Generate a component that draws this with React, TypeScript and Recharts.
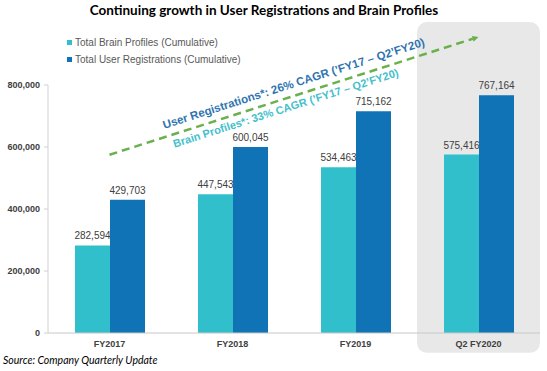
import { BarChart, Bar, XAxis, YAxis, LabelList, ReferenceArea, ReferenceLine } from 'recharts';

const periods = ['FY2017', 'FY2018', 'FY2019', 'Q2 FY2020'];
const brainProfiles = [282594, 447543, 534463, 575416];
const userRegistrations = [429703, 600045, 715162, 767164];
const yTicks = [0, 200000, 400000, 600000, 800000];

const brainName = 'Total Brain Profiles (Cumulative)';
const userName = 'Total User Registrations (Cumulative)';
const userCagrText = 'User Registrations*: 26% CAGR (’FY17 – Q2’FY20)';
const brainCagrText = 'Brain Profiles*: 33% CAGR (’FY17 – Q2’FY20)';

// trend arrow goes from FY2017 up to the Q2 FY2020 column
const trendStart = { x: 'FY2017', y: 575000 };
const trendEnd = { x: 'Q2 FY2020', y: 955000 };

const BRAIN_COLOR = '#31c0cb';
const USER_COLOR = '#0f73b6';
const FONT = '"Liberation Sans", Arial, sans-serif';

const data = periods.map((p, i) => ({
  period: p,
  brain: brainProfiles[i],
  user: userRegistrations[i],
}));

const fmt = (v: any) => Number(v).toLocaleString('en-US');

const TrendArrow = (props: any) => {
  const { x1, y1, x2, y2 } = props;
  const dx = x2 - x1;
  const dy = y2 - y1;
  const len = Math.sqrt(dx * dx + dy * dy);
  const ux = dx / len;
  const uy = dy / len;
  const nx = uy; // normal pointing up
  const ny = -ux;
  const angle = (Math.atan2(dy, dx) * 180) / Math.PI;
  const lineEndX = x2 - ux * 6;
  const lineEndY = y2 - uy * 6;
  const at = (along: number, perp: number) => ({
    x: x1 + ux * along + nx * perp,
    y: y1 + uy * along + ny * perp,
  });
  const u = at(60, 8);
  const b = at(64, -13);
  return (
    <g>
      <line x1={x1} y1={y1} x2={lineEndX} y2={lineEndY} stroke="#6ab04c" strokeWidth={2.5} strokeDasharray="8 5" />
      <polygon
        points={`${x2},${y2} ${lineEndX + nx * 3},${lineEndY + ny * 3} ${lineEndX - nx * 3},${lineEndY - ny * 3}`}
        fill="#6ab04c"
      />
      <text
        x={u.x}
        y={u.y}
        transform={`rotate(${angle} ${u.x} ${u.y})`}
        fill="#2f74b0"
        fontFamily={FONT}
        fontWeight="bold"
        fontSize={11.5}
      >
        {userCagrText}
      </text>
      <text
        x={b.x}
        y={b.y}
        transform={`rotate(${angle} ${b.x} ${b.y})`}
        fill="#45bfcc"
        fontFamily={FONT}
        fontWeight="bold"
        fontSize={11}
      >
        {brainCagrText}
      </text>
    </g>
  );
};

const App = () => {
  return (
    <div style={{ position: 'absolute', left: 0, top: 0, width: 547, height: 371, background: '#fff' }}>
      <div
        style={{
          position: 'absolute',
          top: 2,
          left: 0,
          width: 528,
          textAlign: 'center',
          fontFamily: 'Lato, sans-serif',
          fontWeight: 700,
          fontSize: 13.5,
          color: '#000',
        }}
      >
        Continuing growth in User Registrations and Brain Profiles
      </div>

      <BarChart
        width={547}
        height={371}
        data={data}
        margin={{ top: 85, right: 7, left: 8, bottom: 18 }}
        barSize={35}
        barGap={0}
      >
        <ReferenceArea
          x1="Q2 FY2020"
          x2="Q2 FY2020"
          y1={-64000}
          y2={1003000}
          ifOverflow="visible"
          fill="#e8e8e8"
          fillOpacity={1}
          stroke="none"
          radius={10}
        />
        <XAxis
          dataKey="period"
          height={20}
          tickLine={false}
          axisLine={{ stroke: '#c8c8c8' }}
          tick={{ fontSize: 9, fontWeight: 'bold', fill: '#404040', fontFamily: FONT }}
        />
        <YAxis
          width={40}
          domain={[0, 800000]}
          ticks={yTicks}
          tickFormatter={fmt}
          tickSize={4}
          tickMargin={4}
          axisLine={{ stroke: '#d0d0d0' }}
          tickLine={{ stroke: '#d0d0d0' }}
          tick={{ fontSize: 9, fontWeight: 'bold', fill: '#404040', fontFamily: FONT }}
        />
        <Bar dataKey="brain" name={brainName} fill={BRAIN_COLOR} isAnimationActive={false}>
          <LabelList dataKey="brain" position="top" formatter={fmt} fill="#404040" fontSize={10} fontFamily={FONT} offset={6} />
        </Bar>
        <Bar dataKey="user" name={userName} fill={USER_COLOR} isAnimationActive={false}>
          <LabelList dataKey="user" position="top" formatter={fmt} fill="#404040" fontSize={10} fontFamily={FONT} offset={6} />
        </Bar>
        <ReferenceLine
          segment={[trendStart, trendEnd]}
          ifOverflow="visible"
          shape={TrendArrow}
        />
      </BarChart>

      <div
        style={{
          position: 'absolute',
          left: 67,
          top: 34,
          fontFamily: FONT,
          fontSize: 10,
          color: '#595959',
        }}
      >
        {[
          { name: brainName, color: BRAIN_COLOR },
          { name: userName, color: USER_COLOR },
        ].map((item) => (
          <div key={item.name} style={{ display: 'flex', alignItems: 'center', height: 17 }}>
            <span style={{ width: 5, height: 5, background: item.color, marginRight: 3 }} />
            {item.name}
          </div>
        ))}
      </div>

      <div
        style={{
          position: 'absolute',
          left: 3,
          top: 354,
          fontFamily: 'Lato, sans-serif',
          fontStyle: 'italic',
          fontSize: 10.5,
          color: '#000',
        }}
      >
        Source: Company Quarterly Update
      </div>
    </div>
  );
};

export default App;
